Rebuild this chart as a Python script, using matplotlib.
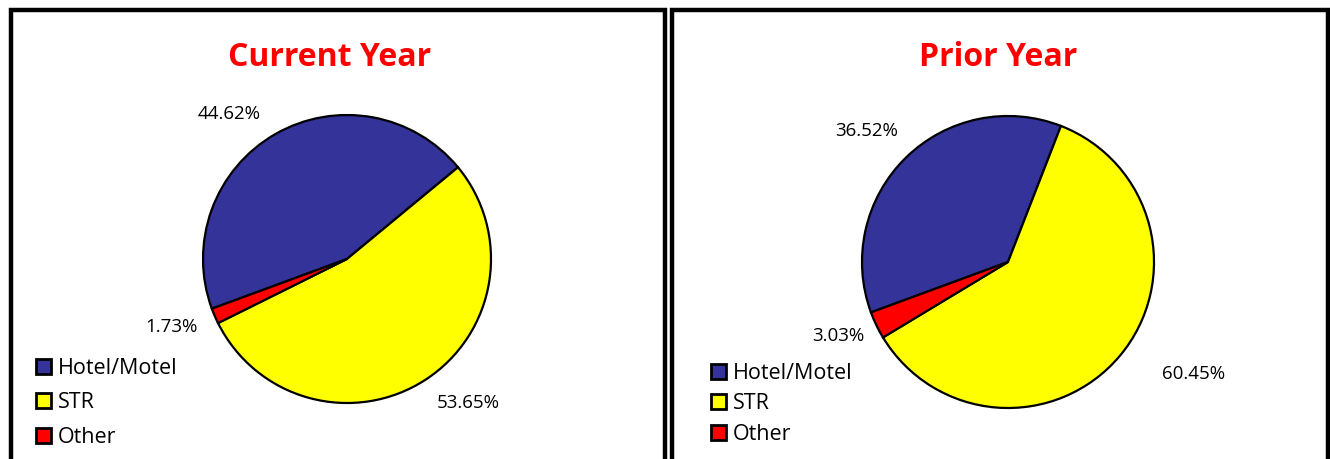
import matplotlib.pyplot as plt
from matplotlib.patches import Rectangle

# data
categories = ['Hotel/Motel', 'STR', 'Other']
current_year = [44.62, 53.65, 1.73]
prior_year = [36.52, 60.45, 3.03]
colors = ['#333399', '#FFFF00', '#FF0000']

plt.rcParams['font.family'] = ['Open Sans', 'DejaVu Sans']

W, H = 1330, 459
fig = plt.figure(figsize=(W / 100, H / 100), dpi=100)


def px_axes(cx, cy, r):
    # axes box in figure fraction from pixel centre / radius
    return [(cx - r) / W, (H - cy - r) / H, 2 * r / W, 2 * r / H]


# panel borders
for x0, x1 in [(11, 665), (672, 1328)]:
    fig.patches.append(Rectangle((x0 / W, -0.05), (x1 - x0) / W, (H - 10) / H + 0.05,
                                 transform=fig.transFigure, fill=False,
                                 edgecolor='black', linewidth=3.2, zorder=0))

panels = [
    ('Current Year', current_year, (347, 259, 144), 330,
     [(-0.82, 1.01), (0.84, -1.0), (-1.22, -0.47)], (36, 358), 0.62),
    ('Prior Year', prior_year, (1008, 262, 146), 998,
     [(-0.97, 0.90), (1.27, -0.77), (-1.16, -0.51)], (711, 363), 0.44),
]

for title, values, (cx, cy, r), tx, lab_pos, (lx, ly), spacing in panels:
    ax = fig.add_axes(px_axes(cx, cy, r))
    wedges, _ = ax.pie(values, colors=colors, startangle=200.2, counterclock=False,
                       radius=1, wedgeprops=dict(edgecolor='black', linewidth=1.6))
    ax.set_xlim(-1, 1)
    ax.set_ylim(-1, 1)
    ax.set_aspect('equal')
    ax.axis('off')
    for v, (dx, dy) in zip(values, lab_pos):
        ax.text(dx, dy, f'{v:.2f}%', ha='center', va='center', fontsize=13.5,
                color='black', clip_on=False)
    fig.text(tx / W, 1 - 57 / H, title, ha='center', va='center', fontsize=23,
             fontweight='bold', color='#FF0000')
    leg = fig.legend(wedges, categories, loc='upper left',
                     bbox_to_anchor=(lx / W, 1 - ly / H), frameon=False,
                     fontsize=15.5, handlelength=0.7, handleheight=0.7, handletextpad=0.3,
                     labelspacing=spacing, borderpad=0, borderaxespad=0)
    for h in leg.legend_handles:
        h.set_linewidth(2)

fig.savefig('out.png', dpi=100)
